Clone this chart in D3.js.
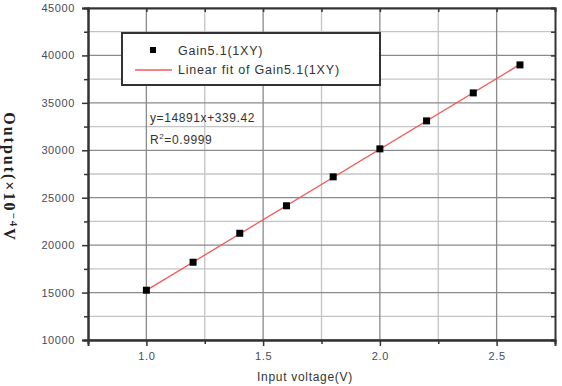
<!DOCTYPE html>
<html>
<head>
<meta charset="utf-8">
<script src="https://cdn.jsdelivr.net/npm/d3@7"></script>
<style>
  body { margin: 0; background: #fff; }
  .tick text { font-family: "Liberation Sans", Arial, sans-serif; font-size: 11px; fill: #4a4a5c; letter-spacing: 0.6px; }
</style>
</head>
<body>
<svg id="chart" width="562" height="386"></svg>
<script>
// data
var voltage = [1.0, 1.2, 1.4, 1.6, 1.8, 2.0, 2.2, 2.4, 2.6];
var output = [15250, 18200, 21250, 24150, 27200, 30150, 33100, 36050, 39000];
var slope = 14891, intercept = 339.42;
var xTicks = [1.0, 1.5, 2.0, 2.5];
var yTicks = [10000, 15000, 20000, 25000, 30000, 35000, 40000, 45000];

var svg = d3.select("#chart"),
    margin = {top: 8, right: 7, bottom: 46, left: 88},
    width = +svg.attr("width") - margin.left - margin.right,
    height = +svg.attr("height") - margin.top - margin.bottom,
    g = svg.append("g").attr("transform", "translate(" + margin.left + "," + margin.top + ")");

var x = d3.scaleLinear().domain([0.75, 2.75]).range([0, width]);
var y = d3.scaleLinear().domain([10000, 45000]).range([height, 0]);

var xMinor = [1.25, 1.75, 2.25];
var yMinor = d3.range(12500, 45000, 5000);

// grid
g.append("g").selectAll("line").data(xMinor).enter().append("line")
    .attr("x1", x).attr("x2", x).attr("y1", 0).attr("y2", height)
    .attr("stroke", "#c4c4c4").attr("stroke-width", 1.3);
g.append("g").selectAll("line").data(yMinor).enter().append("line")
    .attr("y1", y).attr("y2", y).attr("x1", 0).attr("x2", width)
    .attr("stroke", "#c4c4c4").attr("stroke-width", 1.3);
g.append("g").selectAll("line").data(xTicks).enter().append("line")
    .attr("x1", x).attr("x2", x).attr("y1", 0).attr("y2", height)
    .attr("stroke", "#8a8a8a").attr("stroke-width", 1.3);
g.append("g").selectAll("line").data(yTicks).enter().append("line")
    .attr("y1", y).attr("y2", y).attr("x1", 0).attr("x2", width)
    .attr("stroke", "#8a8a8a").attr("stroke-width", 1.3);

// axes
g.append("g").attr("transform", "translate(0," + height + ")")
    .call(d3.axisBottom(x).tickValues(xTicks).tickSize(6).tickPadding(6).tickFormat(d3.format(".1f")));
g.append("g").attr("transform", "translate(0," + height + ")")
    .call(d3.axisBottom(x).tickValues(xMinor).tickSize(4).tickFormat(""));
g.append("g")
    .call(d3.axisLeft(y).tickValues(yTicks).tickSize(6).tickPadding(7).tickFormat(d3.format("d")));
g.append("g")
    .call(d3.axisLeft(y).tickValues(yMinor).tickSize(4).tickFormat(""));
g.append("g").attr("transform", "translate(" + width + ",0)")
    .call(d3.axisLeft(y).tickValues(yTicks.concat(yMinor)).tickSize(4).tickFormat(""));
g.append("g")
    .call(d3.axisBottom(x).tickValues(xTicks.concat(xMinor)).tickSize(4).tickFormat(""));

g.selectAll(".domain").attr("stroke", "#333").attr("stroke-width", 2);
g.selectAll(".tick line").attr("stroke", "#333").attr("stroke-width", 1.5);

// fit line
g.append("line")
    .attr("x1", x(1.0)).attr("y1", y(slope * 1.0 + intercept))
    .attr("x2", x(2.6)).attr("y2", y(slope * 2.6 + intercept))
    .attr("stroke", "#f05a5a").attr("stroke-width", 1.3);

// points
g.append("g").selectAll("rect").data(voltage).enter().append("rect")
    .attr("x", function (d) { return x(d) - 3.5; })
    .attr("y", function (d, i) { return y(output[i]) - 3.5; })
    .attr("width", 7).attr("height", 7)
    .attr("fill", "#000");

// legend
var legend = svg.append("g").attr("transform", "translate(122,33)");
legend.append("rect").attr("width", 258).attr("height", 52)
    .attr("fill", "#fff").attr("stroke", "#333").attr("stroke-width", 2);
legend.append("rect").attr("x", 28).attr("y", 14).attr("width", 6).attr("height", 6).attr("fill", "#000");
legend.append("line").attr("x1", 13).attr("x2", 50).attr("y1", 37).attr("y2", 37)
    .attr("stroke", "#f05a5a").attr("stroke-width", 1.3);
legend.selectAll("text").data(["Gain5.1(1XY)", "Linear fit of Gain5.1(1XY)"]).enter().append("text")
    .attr("x", 56).attr("y", function (d, i) { return 22 + i * 19; })
    .attr("font-family", "Liberation Sans, Arial, sans-serif").attr("font-size", 12.5)
    .attr("letter-spacing", 0.8).attr("fill", "#333")
    .text(function (d) { return d; });

// equation
var eq = svg.append("text").attr("font-family", "Liberation Sans, Arial, sans-serif")
    .attr("font-size", 12).attr("fill", "#333").attr("letter-spacing", 0.6);
eq.append("tspan").attr("x", 150).attr("y", 122).text("y=14891x+339.42");
eq.append("tspan").attr("x", 150).attr("y", 144).text("R");
eq.append("tspan").attr("dy", -5).attr("font-size", 8).text("2");
eq.append("tspan").attr("dy", 5).text("=0.9999");

// axis titles
svg.append("text").attr("x", 305).attr("y", 381)
    .attr("text-anchor", "middle").attr("font-family", "Liberation Sans, Arial, sans-serif")
    .attr("font-size", 12).attr("letter-spacing", 0.7).attr("fill", "#333")
    .text("Input voltage(V)");

var yl = svg.append("text").attr("transform", "translate(4,177) rotate(90)")
    .attr("text-anchor", "middle").attr("font-family", "Liberation Serif, Times New Roman, serif")
    .attr("font-size", 16).attr("font-weight", "bold").attr("letter-spacing", 2).attr("fill", "#222");
yl.append("tspan").text("Output(\u00d710");
yl.append("tspan").attr("dy", -6).attr("font-size", 11).text("\u22124");
yl.append("tspan").attr("dy", 6).text("V");
</script>
</body>
</html>
